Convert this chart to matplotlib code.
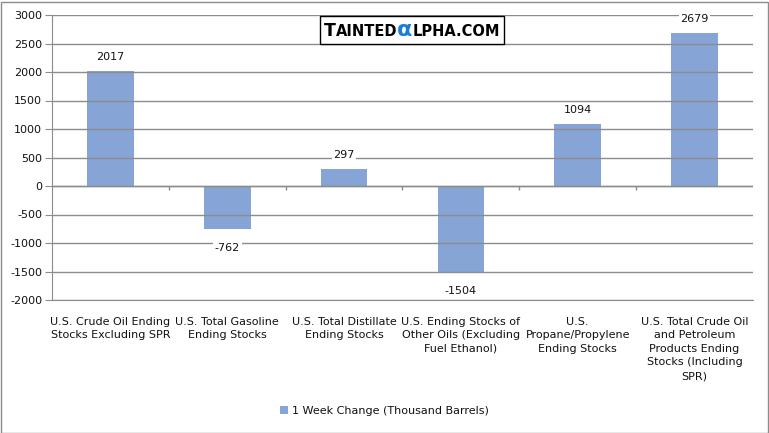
#!/usr/bin/env python
# weekly change in US petroleum stocks, bar chart with data labels
import numpy as np
import matplotlib.pyplot as plt
from matplotlib.offsetbox import TextArea, HPacker, AnnotationBbox
from matplotlib.patches import Rectangle

categories = ['U.S. Crude Oil Ending\nStocks Excluding SPR',
              'U.S. Total Gasoline\nEnding Stocks',
              'U.S. Total Distillate\nEnding Stocks',
              'U.S. Ending Stocks of\nOther Oils (Excluding\nFuel Ethanol)',
              'U.S.\nPropane/Propylene\nEnding Stocks',
              'U.S. Total Crude Oil\nand Petroleum\nProducts Ending\nStocks (Including\nSPR)']
changes = [2017, -762, 297, -1504, 1094, 2679]
yticks = [-2000, -1500, -1000, -500, 0, 500, 1000, 1500, 2000, 2500, 3000]
series_name = '1 Week Change (Thousand Barrels)'

barcolor = '#86A4D6'
gridcolor = '#8C8C8C'
textcolor = '#111111'

fig = plt.figure(figsize=(7.69, 4.33), dpi=100)
ax = fig.add_axes([52/769, 1-300/433, 701/769, 285/433])

x = np.arange(len(categories))
bars = ax.bar(x, changes, width=0.4, color=barcolor, zorder=1, label=series_name)

ax.set_xlim(-0.5, len(categories)-0.5)
ax.set_ylim(yticks[0], yticks[-1])
ax.set_yticks(yticks)
ax.set_yticklabels([str(v) for v in yticks], fontsize=8, color=textcolor)
ax.yaxis.grid(True, color=gridcolor, linewidth=1, zorder=2)
ax.set_axisbelow(False)
ax.tick_params(axis='y', length=5, color=gridcolor, pad=2)

ax.set_xticks(x)
ax.set_xticklabels(categories, fontsize=8, color=textcolor, linespacing=1.45, va='top')
ax.tick_params(axis='x', length=0, pad=12)

for s in ['top', 'right']:
    ax.spines[s].set_visible(False)
ax.spines['left'].set_color(gridcolor)
ax.spines['bottom'].set_color(gridcolor)

# zero line with category tick marks
ax.axhline(0, color=gridcolor, linewidth=1, zorder=3)
bounds = np.arange(len(categories)+1) - 0.5
ax.vlines(bounds[1:-1], -75, 0, color=gridcolor, linewidth=1, zorder=3)

# data labels
for xi, v in zip(x, changes):
    off = 6.5 if v >= 0 else -10
    ax.annotate(str(v), (xi, v), xytext=(0, off), textcoords='offset points',
                ha='center', va='bottom' if v >= 0 else 'top', fontsize=8,
                color=textcolor, zorder=4,
                bbox=dict(boxstyle='square,pad=0.15', fc='white', ec='none'))

leg = fig.legend(loc='center', bbox_to_anchor=(0.5, 1-411/433), frameon=False,
                 fontsize=8, handlelength=0.7, handleheight=0.7, handletextpad=0.4)
for t in leg.get_texts():
    t.set_color(textcolor)

# logo
parts = [TextArea('T', textprops=dict(size=12.5, color='black', weight='bold')),
         TextArea('AINTED', textprops=dict(size=10.5, color='black', weight='bold')),
         TextArea('α', textprops=dict(size=16, color='#1a7fd8', weight='bold')),
         TextArea('LPHA.COM', textprops=dict(size=10.5, color='black', weight='bold'))]
logo = HPacker(children=parts, align='baseline', pad=0, sep=0)
ab = AnnotationBbox(logo, (412/769, 1-30/433), xycoords='figure fraction',
                    frameon=True, pad=0.05, zorder=5,
                    bboxprops=dict(boxstyle='square', fc='white', ec='black', lw=1))
fig.add_artist(ab)

# outer border
fig.add_artist(Rectangle((0.5/769, 0.5/433), 1-2/769, 1-2/433, transform=fig.transFigure,
                         fill=False, ec=gridcolor, lw=1))

fig.savefig('out.png', dpi=100)
